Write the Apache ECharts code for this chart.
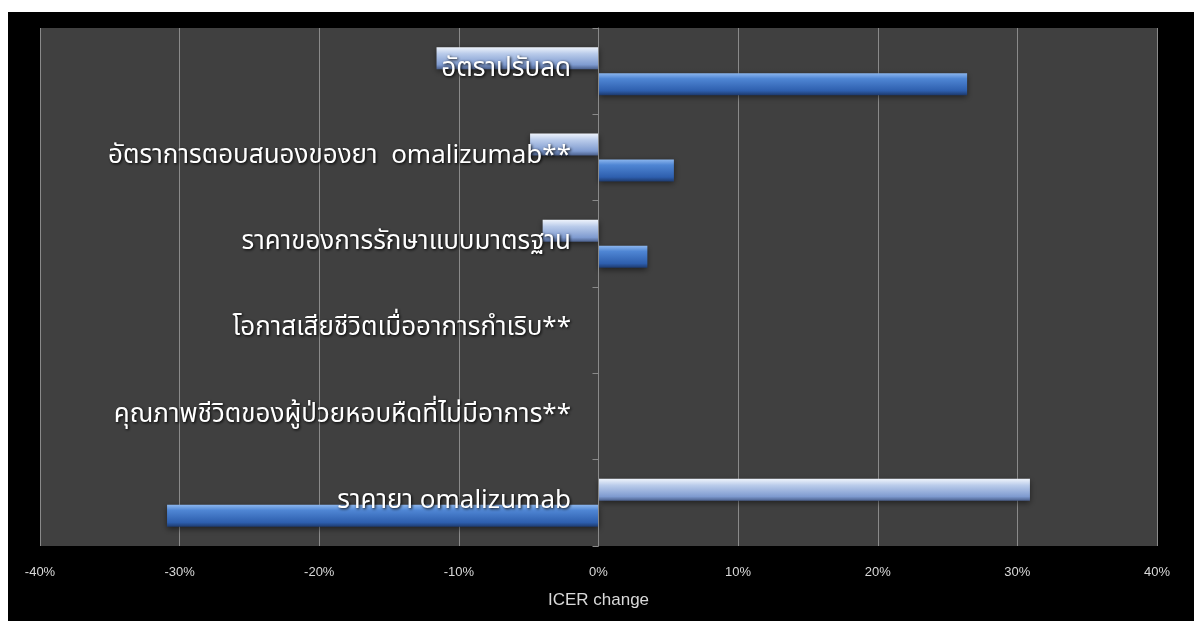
<!DOCTYPE html>
<html>
<head>
<meta charset="utf-8">
<script src="https://cdn.jsdelivr.net/npm/echarts@6/dist/echarts.min.js"></script>
<style>
  html, body { margin: 0; padding: 0; background: #fff; }
  #main { position: absolute; left: 8px; top: 12px; width: 1186px; height: 609px; background: #000; }
</style>
</head>
<body>
<div id="main"></div>
<script>
// หมวดหมู่ (บนลงล่าง)
const categories = [
  'อัตราปรับลด',
  'อัตราการตอบสนองของยา  omalizumab**',
  'ราคาของการรักษาแบบมาตรฐาน',
  'โอกาสเสียชีวิตเมื่ออาการกำเริบ**',
  'คุณภาพชีวิตของผู้ป่วยหอบหืดที่ไม่มีอาการ**',
  'ราคายา omalizumab'
];
// แท่งสีอ่อน (บน) และแท่งสีเข้ม (ล่าง), หน่วย %
const lightValues = [-11.6, -4.9, -4.0, 0, 0, 30.9];
const darkValues = [26.4, 5.4, 3.5, 0, 0, -30.9];
const xTicks = [-40, -30, -20, -10, 0, 10, 20, 30, 40];

const lightColor = new echarts.graphic.LinearGradient(0, 0, 0, 1, [
  { offset: 0, color: '#eef3fb' },
  { offset: 0.3, color: '#b9cbea' },
  { offset: 0.8, color: '#7f9bd0' },
  { offset: 1, color: '#4a5f8c' }
]);
const darkColor = new echarts.graphic.LinearGradient(0, 0, 0, 1, [
  { offset: 0, color: '#8cb6ee' },
  { offset: 0.25, color: '#4f86d4' },
  { offset: 0.8, color: '#2e5fae' },
  { offset: 1, color: '#1d3a6e' }
]);

var myChart = echarts.init(document.getElementById('main'));
myChart.setOption({
  backgroundColor: '#000',
  animation: false,
  grid: {
    left: 32, right: 37, top: 16, bottom: 75,
    outerBoundsMode: 'none',
    containLabel: false,
    show: true, backgroundColor: '#404040', borderWidth: 0
  },
  xAxis: {
    type: 'value',
    min: xTicks[0],
    max: xTicks[xTicks.length - 1],
    interval: 10,
    name: 'ICER change',
    nameLocation: 'middle',
    nameGap: 46,
    nameTextStyle: { color: '#d9d9d9', fontSize: 17, fontFamily: 'Liberation Sans, Arial, sans-serif' },
    axisLine: { show: false },
    axisTick: { show: false },
    axisLabel: {
      color: '#d9d9d9', fontSize: 13, margin: 20,
      fontFamily: 'Liberation Sans, Arial, sans-serif',
      formatter: v => v + '%'
    },
    splitLine: { show: true, lineStyle: { color: '#8a8a8a', width: 1 } }
  },
  yAxis: {
    type: 'category',
    data: categories,
    inverse: true,
    z: 10,
    axisLine: { onZero: true, lineStyle: { color: '#8a8a8a' } },
    axisTick: { show: true, length: 6, lineStyle: { color: '#8a8a8a' } },
    axisLabel: {
      // ป้ายอยู่ชิดเส้น 0% เหมือนต้นฉบับ
      color: '#ffffff', fontSize: 26, margin: -531,
      fontFamily: 'Noto Sans Thai, Noto Sans, DejaVu Sans, sans-serif',
      textShadowColor: '#000', textShadowBlur: 3, textShadowOffsetX: 1, textShadowOffsetY: 1
    }
  },
  series: [
    {
      name: 'light',
      type: 'bar',
      data: lightValues,
      barWidth: 22,
      barGap: '18%',
      itemStyle: { color: lightColor, shadowColor: 'rgba(0,0,0,0.5)', shadowBlur: 6, shadowOffsetY: 2 }
    },
    {
      name: 'dark',
      type: 'bar',
      data: darkValues,
      barWidth: 22,
      itemStyle: { color: darkColor, shadowColor: 'rgba(0,0,0,0.5)', shadowBlur: 6, shadowOffsetY: 2 }
    }
  ]
});
</script>
</body>
</html>
